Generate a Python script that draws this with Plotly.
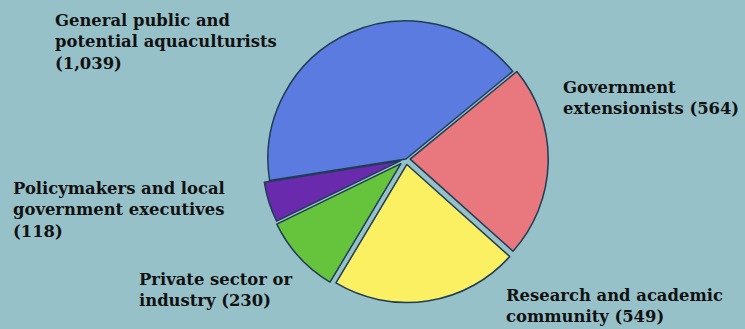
import plotly.graph_objects as go

categories = [
    "General public and<br>potential aquaculturists",
    "Government<br>extensionists",
    "Research and academic<br>community",
    "Private sector or<br>industry",
    "Policymakers and local<br>government executives",
]
values = [1039, 564, 549, 230, 118]
colors = ["#5b7be0", "#e8787e", "#fbef62", "#66c43c", "#6a2aae"]
pulls = [0.0, 0.03, 0.04, 0.05, 0.04]
value_sep = ["<br>", " ", " ", " ", "<br>"]

# label anchor positions in pixels (left, top)
label_pos = [(53, 9), (561, 76), (504, 284), (137, 268), (11, 177)]

W, H = 745, 329
BG = "#97c1c9"

fig = go.Figure()
fig.add_trace(go.Pie(
    labels=[c.replace("<br>", " ") for c in categories],
    values=values,
    sort=False,
    direction="clockwise",
    rotation=261,
    pull=pulls,
    marker=dict(colors=colors, line=dict(color="#1f3c55", width=1.5)),
    textinfo="none",
    hoverinfo="label+value",
    showlegend=False,
    domain=dict(x=[261 / W, 551 / W], y=[1 - 304 / H, 1 - 14 / H]),
))

for cat, val, sep, (px, py) in zip(categories, values, value_sep, label_pos):
    fig.add_annotation(
        x=px / W, y=1 - py / H, xref="paper", yref="paper",
        xanchor="left", yanchor="top", align="left", showarrow=False,
        text=f"<b>{cat}{sep}({val:,})</b>",
        font=dict(family="DejaVu Serif", size=16.4, color="#111111"),
    )

fig.update_layout(
    width=W, height=H,
    margin=dict(l=0, r=0, t=0, b=0),
    paper_bgcolor=BG, plot_bgcolor=BG,
)

fig.write_html("out.html")
